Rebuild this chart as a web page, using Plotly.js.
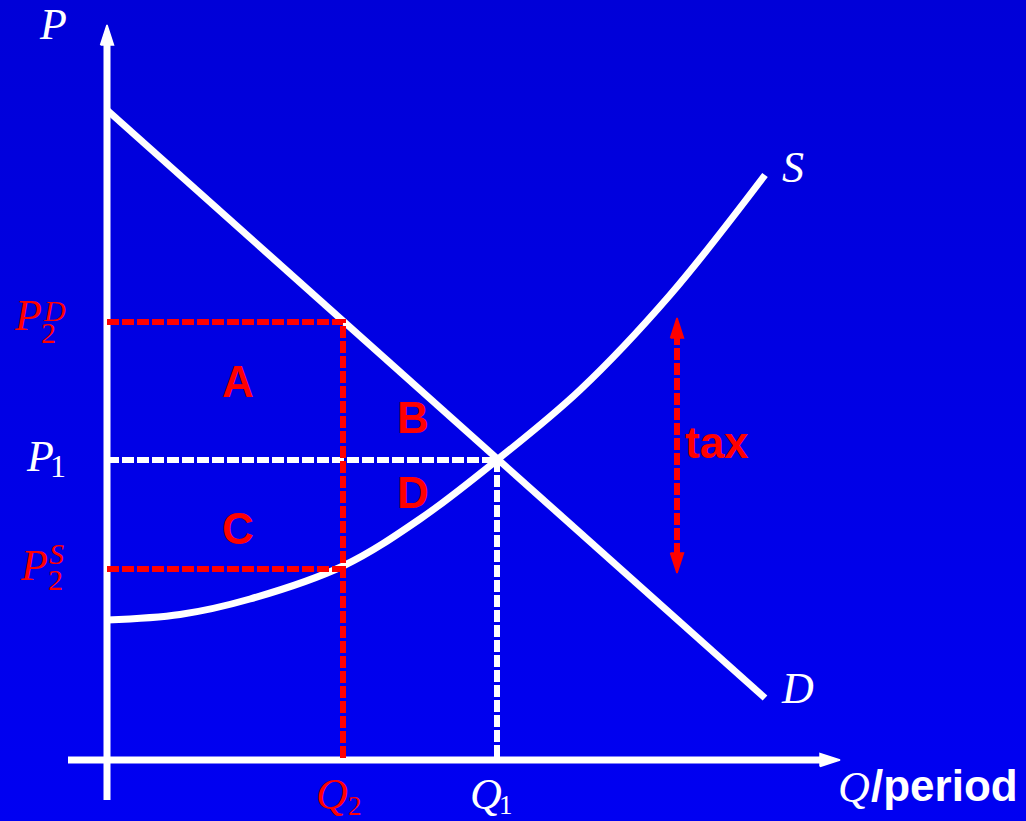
<!DOCTYPE html>
<html>
<head>
<meta charset="utf-8">
<script src="https://cdn.plot.ly/plotly-3.0.1.min.js"></script>
<style>
  html, body { margin: 0; padding: 0; }
  body { width: 1026px; height: 821px; background: linear-gradient(to bottom, #0000D8, #0000F2); overflow: hidden; }
  #chart { width: 1026px; height: 821px; }
</style>
</head>
<body>
<div id="chart"></div>
<script>
// ---- data (quantity Q, price P in chart units) ----
const demandQ = [0, 65.8];
const demandP = [65.0, 6.2];
const supplyQ = [0, 7.3, 14.3, 23.6, 31.3, 39.0, 47.3, 56.3, 65.8];
const supplyP = [14.0, 14.55, 16.1, 19.4, 24.1, 30.0, 37.0, 46.5, 58.5];
const quantities = [23.6, 39.0];          // Q2, Q1
const prices = [43.8, 30.0, 19.1];        // P2D, P1, P2S
const taxQ = [57.0];
const taxSpan = [18.7, 44.2];             // bottom tip, top tip
const axisQ = [-3.9, 73.3];               // x axis start, tip
const axisP = [-4.0, 73.5];               // y axis start, tip

const Q2 = quantities[0], Q1 = quantities[1];
const P2D = prices[0], P1 = prices[1], P2S = prices[2];

const WHITE = '#FFFFFF', RED = '#FF0000';
const headLen = 2.0, headHalf = 0.65;

function head(x, y, dir, color) {
  let xs, ys;
  if (dir === 'up') { xs = [x - headHalf, x, x + headHalf, x - headHalf]; ys = [y - headLen, y, y - headLen, y - headLen]; }
  else if (dir === 'down') { xs = [x - headHalf, x, x + headHalf, x - headHalf]; ys = [y + headLen, y, y + headLen, y + headLen]; }
  else { xs = [x - headLen, x, x - headLen, x - headLen]; ys = [y - headHalf, y, y + headHalf, y - headHalf]; }
  return { x: xs, y: ys, mode: 'lines', fill: 'toself', fillcolor: color,
           line: { color: color, width: 1.5 }, hoverinfo: 'skip', showlegend: false };
}
function seg(xs, ys, color, width, dash, shape) {
  return { x: xs, y: ys, mode: 'lines', hoverinfo: 'skip', showlegend: false,
           line: { color: color, width: width, dash: dash || 'solid', shape: shape || 'linear', smoothing: 1 } };
}

const DASH = '12px,3px';
const traces = [
  // axes
  seg([0, 0], [axisP[0], axisP[1] - headLen + 0.2], WHITE, 7),
  head(0, axisP[1], 'up', WHITE),
  seg([axisQ[0], axisQ[1] - headLen + 0.2], [0, 0], WHITE, 7),
  head(axisQ[1], 0, 'right', WHITE),
  // demand & supply
  seg(demandQ, demandP, WHITE, 7),
  seg(supplyQ, supplyP, WHITE, 7, 'solid', 'spline'),
  // equilibrium guides
  seg([0, Q1, Q1], [P1, P1, 0], WHITE, 6, DASH),
  seg([0, Q2, Q2], [P2D, P2D, 0], RED, 6, DASH),
  seg([0, Q2], [P2S, P2S], RED, 6, DASH),
  // tax arrow
  seg([taxQ[0], taxQ[0]], [taxSpan[0] + headLen - 0.2, taxSpan[1] - headLen + 0.2], RED, 6, DASH),
  head(taxQ[0], taxSpan[1], 'up', RED),
  head(taxQ[0], taxSpan[0], 'down', RED)
];

const serif = 'Liberation Serif, Times New Roman, serif';
const sans = 'Liberation Sans, Arial, sans-serif';
function lab(text, x, y, color, size, family, anchor) {
  return { text: text, x: x, y: y, xref: 'x', yref: 'y', showarrow: false, borderpad: 0,
           xanchor: anchor || 'center', yanchor: 'middle',
           font: { family: family, size: size, color: color } };
}

const annotations = [
  lab('<i>P</i>', -5.4, 73.55, WHITE, 44, serif),
  lab('<i>P</i>', -7.9, 44.5, RED, 44, serif),
  lab('<i>D</i>', -5.3, 45.0, RED, 30, serif),
  lab('2', -5.9, 42.75, RED, 30, serif),
  lab('<i>P</i>', -6.75, 30.4, WHITE, 44, serif),
  lab('1', -4.9, 29.4, WHITE, 32, serif),
  lab('<i>P</i>', -7.3, 19.5, RED, 44, serif),
  lab('<i>S</i>', -5.05, 20.7, RED, 30, serif),
  lab('2', -5.2, 18.1, RED, 30, serif),
  lab('<i>Q</i>', 22.5, -3.4, RED, 44, serif),
  lab('2', 24.75, -4.55, RED, 27, serif),
  lab('<i>Q</i>', 37.9, -3.4, WHITE, 44, serif),
  lab('1', 39.9, -4.5, WHITE, 27, serif),
  lab('<i>Q</i>', 74.7, -2.7, WHITE, 44, serif),
  lab('<b>/period</b>', 76.3, -2.5, WHITE, 44, sans, 'left'),
  lab('<i>S</i>', 68.55, 59.3, WHITE, 44, serif),
  lab('<i>D</i>', 69.05, 7.15, WHITE, 44, serif),
  lab('<b>A</b>', 13.05, 37.9, RED, 44, sans),
  lab('<b>B</b>', 30.6, 34.25, RED, 44, sans),
  lab('<b>C</b>', 13.1, 23.15, RED, 44, sans),
  lab('<b>D</b>', 30.6, 26.8, RED, 44, sans),
  lab('<b>tax</b>', 60.95, 31.75, RED, 44, sans)
];

const layout = {
  width: 1026, height: 821,
  margin: { l: 0, r: 0, t: 0, b: 0 },
  paper_bgcolor: 'rgba(0,0,0,0)', plot_bgcolor: 'rgba(0,0,0,0)',
  xaxis: { range: [-10.7, 91.9], visible: false, fixedrange: true },
  yaxis: { range: [-6.1, 76.0], visible: false, fixedrange: true },
  showlegend: false,
  annotations: annotations
};

Plotly.newPlot('chart', traces, layout, { staticPlot: true, displayModeBar: false });
</script>
</body>
</html>
